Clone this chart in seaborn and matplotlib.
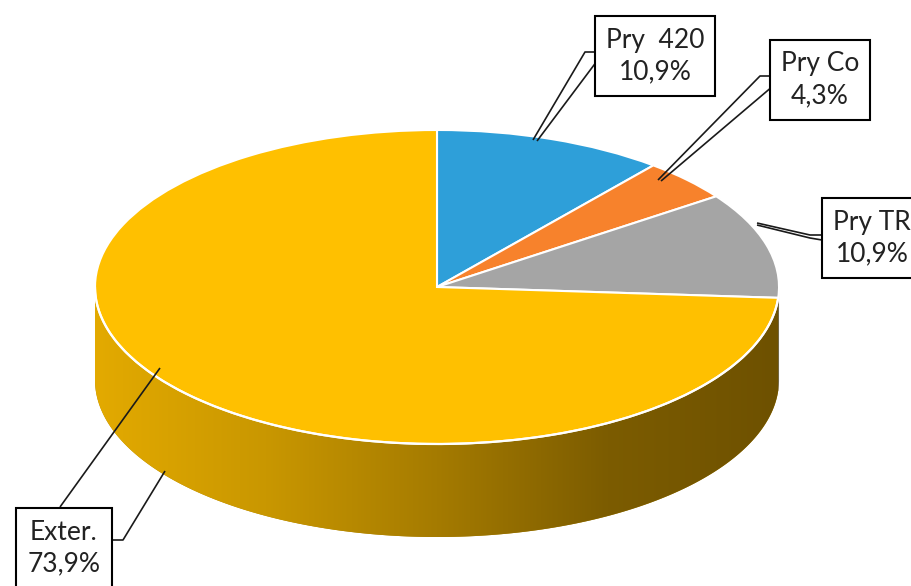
import numpy as np
import matplotlib
matplotlib.use('Agg')
import matplotlib.pyplot as plt
import seaborn as sns
from matplotlib.colors import LinearSegmentedColormap
from matplotlib.patches import Polygon

# ---- data ----
labels = ['Pry  420', 'Pry Co', 'Pry TR', 'Exter.']
values = [10.9, 4.3, 10.9, 73.9]
pct_labels = ['10,9%', '4,3%', '10,9%', '73,9%']
colors = ['#2E9FD9', '#F7822C', '#A5A5A5', '#FFC000']
side_colors = ['#1F6E99', '#B05A1E', '#4A4A4A', '#B08600']
explode = [0.028, 0.028, 0.028, 0.0]

sns.set_theme(style='white')
plt.rcParams['font.family'] = ['Lato', 'DejaVu Sans']

W, H = 911, 586
fig = plt.figure(figsize=(W / 100, H / 100), dpi=100)
ax = fig.add_axes([0, 0, 1, 1])

CX, CY, RX, RY, DEPTH = 437, 287, 342, 157, 93
k = RX / RY


def Y(py):
    return (H - py) * k


wedges, _ = ax.pie(values, colors=colors, startangle=90, counterclock=False,
                   explode=explode, radius=RX, center=(CX, Y(CY)),
                   wedgeprops=dict(edgecolor='white', linewidth=1.5))
ax.set_aspect('auto')
ax.axis('off')

d = DEPTH * k
side_cmap = LinearSegmentedColormap.from_list(
    'side', ['#E3AA00', '#C99700', '#A57B00', '#7C5C00', '#6E5100'])


def lower_intervals(t1, t2):
    out = []
    for a, b in [(-540, -360), (-180, 0), (180, 360)]:
        lo, hi = max(t1, a), min(t2, b)
        if hi > lo:
            out.append((lo, hi))
    return out


for i, w in enumerate(wedges):
    cx, cy = w.center
    r = w.r
    t1, t2 = w.theta1, w.theta2
    small = i < 3
    if small:
        # cut face on the lower radial edge, facing the viewer
        ang = np.deg2rad(t1)
        px, py = cx + r * np.cos(ang), cy + r * np.sin(ang)
        face = Polygon([(cx, cy), (px, py), (px, py - d), (cx, cy - d)],
                       closed=True, fc=side_colors[i], ec='none', zorder=0.5)
        ax.add_patch(face)
    for lo, hi in lower_intervals(t1, t2):
        ts = np.deg2rad(np.linspace(lo, hi, 200))
        top = np.column_stack([cx + r * np.cos(ts), cy + r * np.sin(ts)])
        bot = top[::-1].copy()
        bot[:, 1] -= d
        poly = Polygon(np.vstack([top, bot]), closed=True,
                       fc=side_colors[i], ec='none', zorder=0.6 if small else 1)
        ax.add_patch(poly)
        if not small:
            xs = np.linspace(0, 1, 256)[None, :]
            im = ax.imshow(xs, cmap=side_cmap, aspect='auto',
                           extent=(top[:, 0].min(), top[:, 0].max(),
                                   top[:, 1].min() - d, top[:, 1].max()),
                           zorder=1.1, interpolation='bilinear')
            im.set_clip_path(poly)
            ax.plot(top[:, 0], top[:, 1], color='white', lw=1.6, zorder=2.5)
    w.set_zorder(2)

ax.set_xlim(0, W)
ax.set_ylim(0, H * k)

# ---- labels & leader lines ----
label_pos = [(655, 56), (820, 80), (872, 238), (64, 548)]
leaders = [
    [[(533, 140), (585, 52), (598, 52)], [(537, 141), (597, 61)]],
    [[(658, 180), (760, 76), (773, 76)], [(661, 181), (773, 86)]],
    [[(757, 223), (810, 235), (822, 235)], [(757, 225), (810, 238), (822, 240)]],
    [[(160, 368), (60, 507)], [(165, 471), (123, 540), (110, 540)]],
]
for lab, pct, (lx, ly), lines in zip(labels, pct_labels, label_pos, leaders):
    for ln in lines:
        xs = [p[0] for p in ln]
        ys = [Y(p[1]) for p in ln]
        ax.plot(xs, ys, color='#1a1a1a', lw=1.2, zorder=3, solid_capstyle='butt')
    ax.text(lx, Y(ly), f'{lab}\n{pct}', ha='center', va='center',
            multialignment='center', fontsize=19, color='#222222',
            linespacing=1.35, zorder=4, clip_on=False,
            bbox=dict(boxstyle='square,pad=0.42', fc='white', ec='black', lw=1.5))

fig.savefig('out.png', dpi=100)
